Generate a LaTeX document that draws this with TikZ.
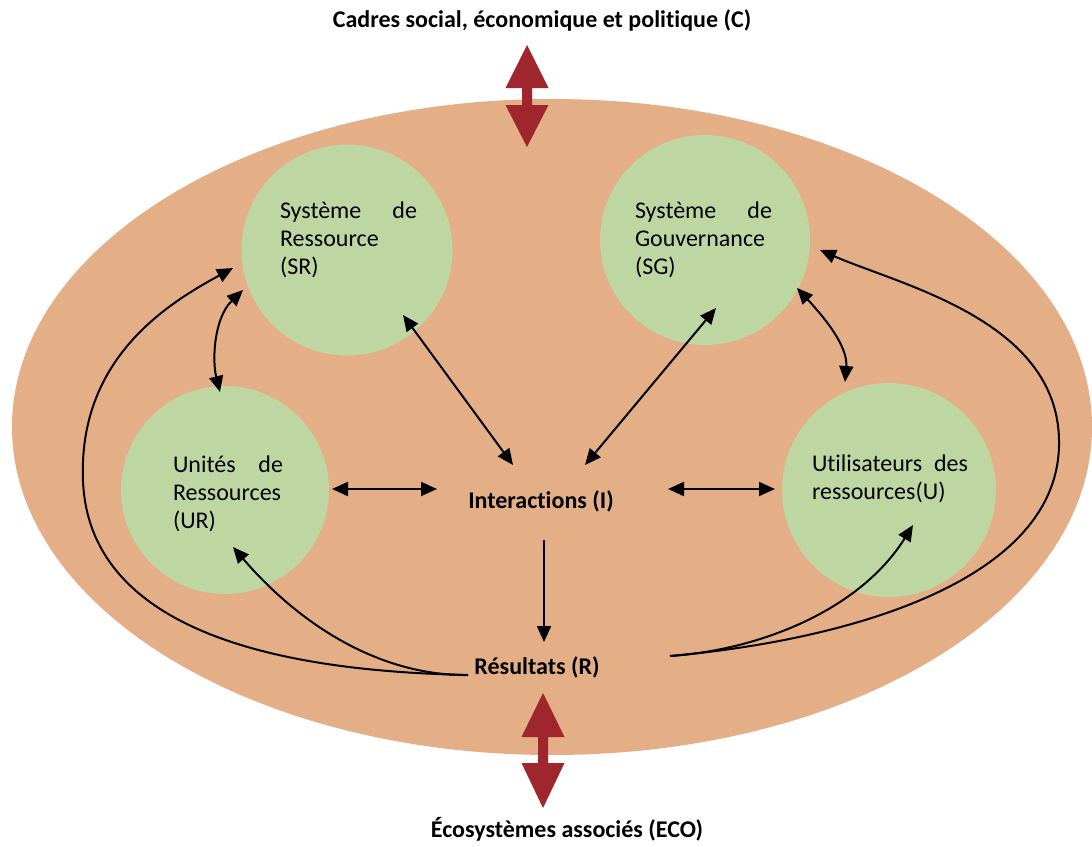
\documentclass[tikz,border=0pt]{standalone}
\usepackage{fontspec}
\setmainfont{Carlito}[Ligatures={TeX,NoCommon,NoRare,NoHistoric,NoContextual}]
\usetikzlibrary{arrows.meta,calc}
\definecolor{ellfill}{RGB}{228,174,135}
\definecolor{bubfill}{RGB}{190,215,162}
\definecolor{dred}{RGB}{160,38,46}
\begin{document}
\begin{tikzpicture}[x=1pt,y=-1pt,
  bubble/.style={circle,fill=bubfill,inner sep=0pt,minimum size=#1},
  lbl/.style={inner sep=0pt,align=left,font=\fontsize{24}{28}\selectfont},
  blbl/.style={inner sep=0pt,anchor=base,font=\fontsize{24}{28}\selectfont\bfseries},
  tipA/.tip={Triangle[length=16pt,width=14pt]},
  both/.style={line width=2pt,black,tipA-tipA},
  one/.style={line width=2pt,black,-tipA},
  redarrow/.style={fill=dred}]
\useasboundingbox (0,0) rectangle (1092,846);
\fill[white] (0,0) rectangle (1092,846);
% big ellipse
\fill[ellfill] (552,427) ellipse [x radius=540, y radius=328];
% red double arrows
\fill[redarrow] (527,45) -- (548.5,88) -- (532,88) -- (532,105) -- (548.5,105) -- (527,147)
  -- (505.5,105) -- (522,105) -- (522,88) -- (505.5,88) -- cycle;
\fill[redarrow] (543,693) -- (564.5,737) -- (548,737) -- (548,763) -- (564.5,763) -- (543,808)
  -- (521.5,763) -- (538,763) -- (538,737) -- (521.5,737) -- cycle;
% bubbles
\node[bubble=211] (cSR) at (347,250) {};
\node[bubble=210] (cSG) at (705,240) {};
\node[bubble=208] (cUR) at (225,490) {};
\node[bubble=214] (cU) at (889,490) {};
% bubble texts
\node[lbl] (tSR) at (348.5,240) {\hbox to 137pt{Système\hfill de}\\Ressource\\(SR)};
\node[lbl] (tSG) at (703.5,240) {\hbox to 137pt{Système\hfill de}\\Gouvernance\\(SG)};
\node[lbl] (tUR) at (228,494) {\hbox to 110pt{Unités\hfill de}\\Ressources\\(UR)};
\node[lbl] (tU) at (890,479) {\hbox to 156pt{Utilisateurs\hfill des}\\ressources(U)};
% bold labels
\node[blbl] (tC) at (542,27) {Cadres social, économique et politique (C)};
\node[blbl] (tECO) at (567,837) {Écosystèmes associés (ECO)};
\node[blbl] (tI) at (541,508) {Interac\kern0pt tions (I)};
\node[blbl] (tR) at (537,674) {Résultats (R)};
% straight connectors
\draw[both] ([shift={(56,65)}]cSR.center) -- ([shift={(-28,-43)}]tI.base);
\draw[both] ([shift={(11,68)}]cSG.center) -- ([shift={(44,-43)}]tI.base);
\draw[both] ([shift={(107,-1)}]cUR.center) -- ([shift={(-104,-19)}]tI.base);
\draw[both] ([shift={(127,-19)}]tI.base) -- ([shift={(-114,-1)}]cU.center);
\draw[one] ([shift={(3,32)}]tI.base) -- ([shift={(7,-32)}]tR.base);
% curved connectors
\draw[both] ([shift={(-5,-98)}]cUR.center) .. controls (212,360) and (214,318) .. ([shift={(-104,40)}]cSR.center);
\draw[both] ([shift={(92,48)}]cSG.center) .. controls (822,315) and (848,345) .. ([shift={(-44,-108)}]cU.center);
\draw[one] ([shift={(-69,1)}]tR.base) .. controls (330,672) and (90,650) .. (83,481)
  .. controls (78,360) and (165,305) .. ([shift={(-114,18)}]cSR.center);
\draw[one] ([shift={(-69,1)}]tR.base) .. controls (380,676) and (300,625) .. ([shift={(8,57)}]cUR.center);
\draw[one] ([shift={(133,-18)}]tR.base) .. controls (760,650) and (860,610) .. ([shift={(24,35)}]cU.center);
\draw[one] ([shift={(133,-18)}]tR.base) .. controls (850,640) and (1062,580) .. (1059,440)
  .. controls (1057,320) and (900,285) .. ([shift={(115,10)}]cSG.center);
\end{tikzpicture}
\end{document}
